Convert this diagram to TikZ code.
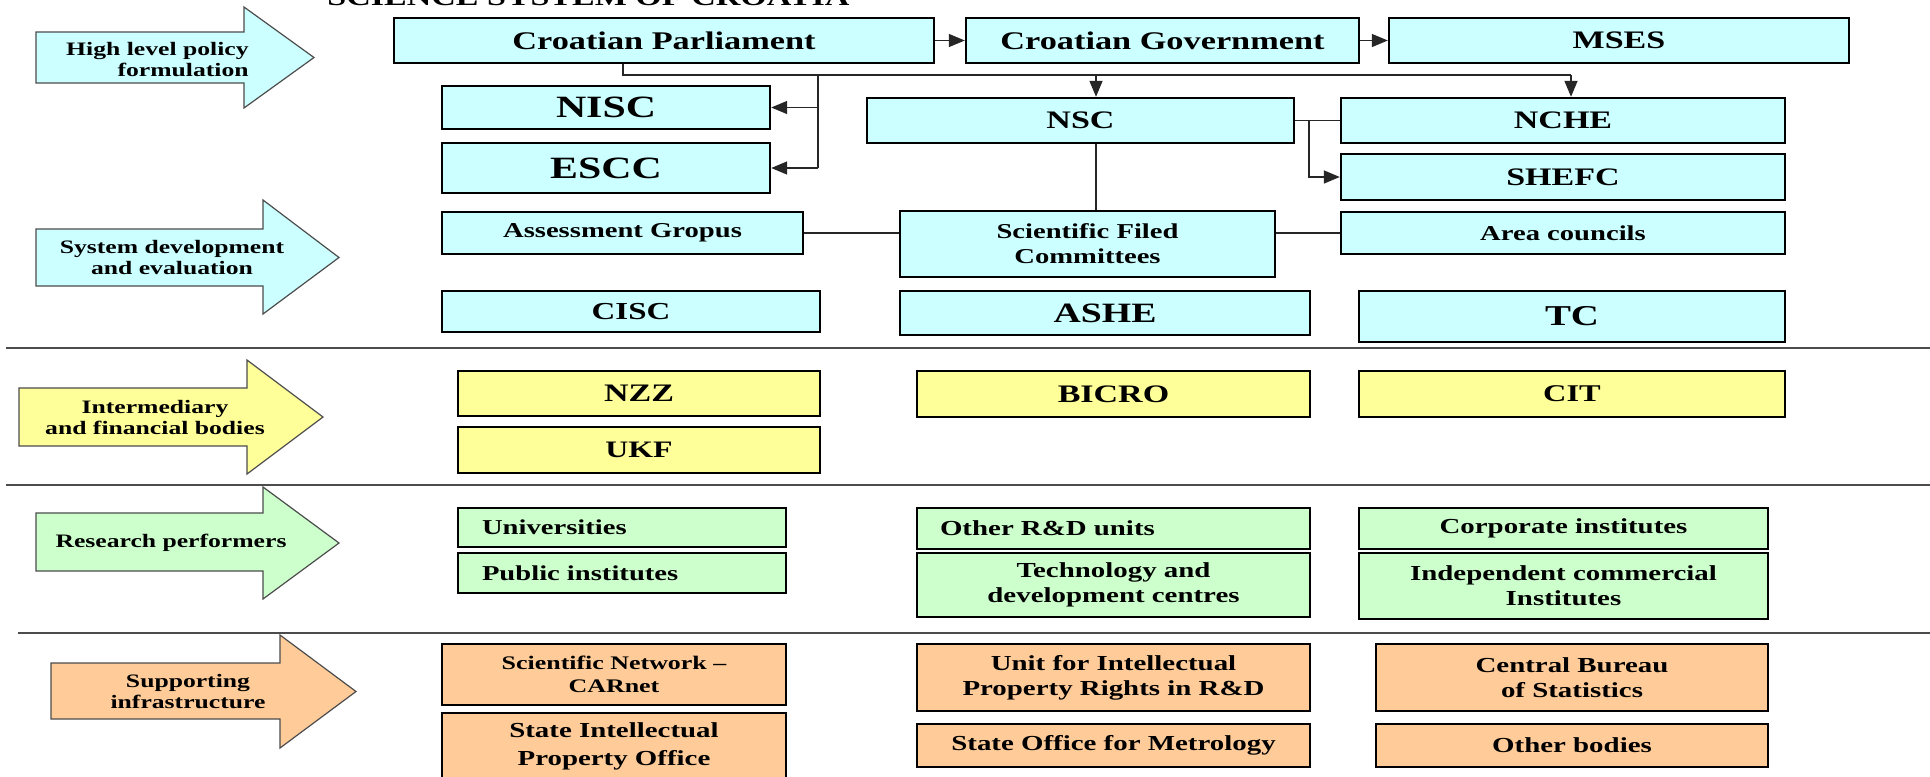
\documentclass[tikz,border=0pt]{standalone}
\usepackage{fontspec}
\setmainfont{Liberation Serif}[FakeStretch=1.35]
\usepackage{tikz}
\usetikzlibrary{arrows.meta}
\definecolor{lcyan}{HTML}{CCFFFF}
\definecolor{lyellow}{HTML}{FFFF99}
\definecolor{lgreen}{HTML}{CCFFCC}
\definecolor{lorange}{HTML}{FFCC99}
\newcommand{\fsz}[2]{\fontsize{#1}{#2}\selectfont}
\pgfdeclarelayer{edgelayer}
\pgfdeclarelayer{nodelayer}
\pgfsetlayers{edgelayer,nodelayer,main}
\tikzstyle{body}=[rectangle,draw=black,line width=1.2pt,inner sep=0pt,align=center]
\tikzstyle{policy}=[style=body,fill=lcyan]
\tikzstyle{fund}=[style=body,fill=lyellow]
\tikzstyle{perf}=[style=body,fill=lgreen]
\tikzstyle{infra}=[style=body,fill=lorange]
\tikzstyle{leftset}=[align=left,inner xsep=12pt]
\tikzstyle{link}=[-,line width=0.75pt,draw=black!85]
\tikzstyle{inarrow}=[style=link,-{Triangle[length=8pt,width=6.5pt]}]
\tikzstyle{banner}=[draw=black!70,line width=0.6pt,line join=miter]
\tikzstyle{bannertext}=[font=\bfseries\fsz{9.5}{10.5},align=center,inner sep=0pt]
\tikzstyle{divider}=[line width=1pt,draw=black!70]

\begin{document}
\begin{tikzpicture}[x=0.5pt,y=-0.5pt]
	\useasboundingbox (0,0) rectangle (1930,776);
	\begin{pgfonlayer}{nodelayer}
		\node [font=\bfseries\fsz{12.6}{14},anchor=base west,inner sep=0pt] (title) at (327,5) {SCIENCE SYSTEM OF CROATIA};
		% level labels
		\node [style=bannertext,align=right,anchor=east] (hlp) at (249,59.5) {High level policy\\formulation};
		\node [style=bannertext] (sde) at (172,257.5) {System development\\and evaluation};
		\node [style=bannertext] (ifb) at (155,417.5) {Intermediary\\and financial bodies};
		\node [style=bannertext] (rp) at (171,543) {Research performers};
		\node [style=bannertext] (si) at (188,692) {Supporting\\infrastructure};
		% policy and evaluation
		\node [style=policy,minimum width=270pt,minimum height=22.5pt,font=\bfseries\fsz{12.7}{15}] (parl) at (664,40.5) {Croatian Parliament};
		\node [style=policy,minimum width=196.5pt,minimum height=22.5pt,font=\bfseries\fsz{12.7}{15}] (gov) at (1162.5,40.5) {Croatian Government};
		\node [style=policy,minimum width=230pt,minimum height=22.5pt,font=\bfseries\fsz{12.6}{15}] (mses) at (1619,40.5) {MSES};
		\node [style=policy,minimum width=164pt,minimum height=21.5pt,font=\bfseries\fsz{15.5}{17}] (nisc) at (606,107.5) {NISC};
		\node [style=policy,minimum width=164pt,minimum height=25pt,font=\bfseries\fsz{15.5}{17}] (escc) at (606,168) {ESCC};
		\node [style=policy,minimum width=213.5pt,minimum height=22.5pt,font=\bfseries\fsz{12.6}{15}] (nsc) at (1080.5,120.5) {NSC};
		\node [style=policy,minimum width=222pt,minimum height=22.5pt,font=\bfseries\fsz{12.6}{15}] (nche) at (1563,120.5) {NCHE};
		\node [style=policy,minimum width=222pt,minimum height=23pt,font=\bfseries\fsz{12.6}{15}] (shefc) at (1563,177) {SHEFC};
		\node [style=policy,minimum width=180.5pt,minimum height=21pt,font=\bfseries\fsz{10.6}{12.5}] (assess) at (622.5,233) {Assessment Gropus};
		\node [style=policy,minimum width=187.5pt,minimum height=33pt,font=\bfseries\fsz{10.6}{12.5}] (sfc) at (1087.5,244) {Scientific Filed\\Committees};
		\node [style=policy,minimum width=222pt,minimum height=21pt,font=\bfseries\fsz{10.6}{12.5}] (area) at (1563,233) {Area councils};
		\node [style=policy,minimum width=189pt,minimum height=20.5pt,font=\bfseries\fsz{12.2}{14}] (cisc) at (631,311.5) {CISC};
		\node [style=policy,minimum width=205pt,minimum height=22pt,font=\bfseries\fsz{14}{16}] (ashe) at (1105,313) {ASHE};
		\node [style=policy,minimum width=213pt,minimum height=25.5pt,font=\bfseries\fsz{14.4}{16}] (tc) at (1572,316.5) {TC};
		% intermediary bodies
		\node [style=fund,minimum width=181pt,minimum height=22.5pt,font=\bfseries\fsz{12.6}{15}] (nzz) at (639,393.5) {NZZ};
		\node [style=fund,minimum width=181pt,minimum height=23pt,font=\bfseries\fsz{11.8}{14}] (ukf) at (639,450) {UKF};
		\node [style=fund,minimum width=196.5pt,minimum height=23pt,font=\bfseries\fsz{12.6}{15}] (bicro) at (1113.5,394) {BICRO};
		\node [style=fund,minimum width=213pt,minimum height=23pt,font=\bfseries\fsz{12}{14}] (cit) at (1572,394) {CIT};
		% research performers
		\node [style=perf,style=leftset,text width=140pt,minimum height=19.5pt,font=\bfseries\fsz{10.6}{12.5}] (univ) at (622,527.5) {Universities};
		\node [style=perf,style=leftset,text width=140pt,minimum height=20pt,font=\bfseries\fsz{10.6}{12.5}] (pubinst) at (622,573) {Public institutes};
		\node [style=perf,style=leftset,inner xsep=11.5pt,text width=173.5pt,minimum height=20.5pt,font=\bfseries\fsz{10.7}{12.5}] (otherrd) at (1113.5,528.5) {Other R\&D units};
		\node [style=perf,minimum width=196.5pt,minimum height=32pt,font=\bfseries\fsz{10.7}{12.5}] (techdev) at (1113.5,585) {Technology and\\development centres};
		\node [style=perf,minimum width=204.5pt,minimum height=20.5pt,font=\bfseries\fsz{10.7}{12.5}] (corp) at (1563.5,528.5) {Corporate institutes};
		\node [style=perf,minimum width=204.5pt,minimum height=33pt,font=\bfseries\fsz{10.7}{12.5}] (indep) at (1563.5,586) {Independent commercial\\Institutes};
		% supporting infrastructure
		\node [style=infra,minimum width=172pt,minimum height=30.5pt,font=\bfseries\fsz{9.6}{11.5}] (scinet) at (614,674.5) {Scientific Network \textendash\\CARnet};
		\node [style=infra,minimum width=172pt,minimum height=33.5pt,font=\bfseries\fsz{10.7}{14}] (sipo) at (614,746.5) {State Intellectual\\Property Office};
		\node [style=infra,minimum width=196.5pt,minimum height=33.5pt,font=\bfseries\fsz{10.7}{12.5}] (uipr) at (1113.5,677.5) {Unit for Intellectual\\Property Rights in R\&D};
		\node [style=infra,minimum width=196.5pt,minimum height=21.5pt,font=\bfseries\fsz{10.7}{12.5}] (metro) at (1113.5,745.5) {State Office for Metrology};
		\node [style=infra,minimum width=196pt,minimum height=33.5pt,font=\bfseries\fsz{10.7}{12.5}] (cbs) at (1572,677.5) {Central Bureau\\of Statistics};
		\node [style=infra,minimum width=196pt,minimum height=21.5pt,font=\bfseries\fsz{10.7}{12.5}] (other) at (1572,745.5) {Other bodies};
	\end{pgfonlayer}
	\begin{pgfonlayer}{edgelayer}
		% block arrows
		\draw [style=banner,fill=lcyan] (36,32) -- (244,32) -- (244,7) -- (314,57.5) -- (244,108) -- (244,83) -- (36,83) -- cycle;
		\draw [style=banner,fill=lcyan] (36,229) -- (263,229) -- (263,200) -- (339,257.5) -- (263,314) -- (263,286) -- (36,286) -- cycle;
		\draw [style=banner,fill=lyellow] (19,388) -- (247,388) -- (247,360) -- (323,417) -- (247,474) -- (247,446) -- (19,446) -- cycle;
		\draw [style=banner,fill=lgreen] (36,513) -- (263,513) -- (263,487) -- (339,543) -- (263,599) -- (263,571) -- (36,571) -- cycle;
		\draw [style=banner,fill=lorange] (51,663) -- (280,663) -- (280,635) -- (356,691.5) -- (280,748) -- (280,719) -- (51,719) -- cycle;
		% dividers
		\draw [style=divider] (6,348) -- (1930,348);
		\draw [style=divider] (6,485) -- (1930,485);
		\draw [style=divider] (18,633) -- (1930,633);
		% connectors
		\coordinate (t0) at (623,75);
		\coordinate (t1) at (1571,75);
		\coordinate (tn) at (818,75);
		\coordinate (ts) at (1096,75);
		\coordinate (br) at (1309,120.5);
		\draw [style=inarrow] (parl) to (gov);
		\draw [style=inarrow] (gov) to (mses);
		\draw [style=link] (parl.south -| t0) -- (t0) -- (t1);
		\draw [style=inarrow] (t1) -- (t1 |- nche.north);
		\draw [style=inarrow] (ts) -- (ts |- nsc.north);
		\draw [style=link] (tn) -- (tn |- escc.east);
		\draw [style=inarrow] (tn |- nisc.east) -- (nisc.east);
		\draw [style=inarrow] (tn |- escc.east) -- (escc.east);
		\draw [style=link] (nsc) to (nche);
		\draw [style=inarrow] (br) -- (br |- shefc.west) -- (shefc.west);
		\draw [style=link] (ts |- nsc.south) -- (ts |- sfc.north);
		\draw [style=link] (assess.east) -- (assess.east -| sfc.west);
		\draw [style=link] (sfc.east |- area.west) -- (area.west);
	\end{pgfonlayer}
\end{tikzpicture}
\end{document}
